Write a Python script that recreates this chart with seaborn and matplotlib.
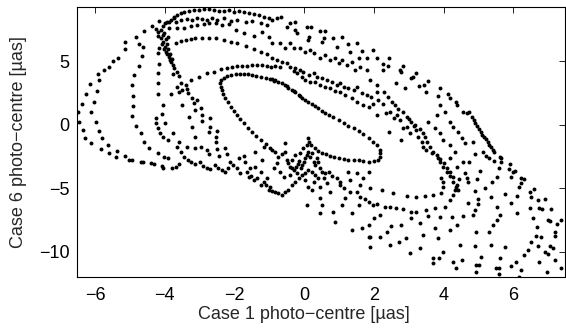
#!/usr/bin/env python
# -*- coding: utf-8 -*-
"""
Photo-centre comparison: case 1 vs case 6 (scatter of sampled positions)
"""

import matplotlib
matplotlib.use('Agg')
import matplotlib.pyplot as plt
import pandas as pd
import seaborn as sns


# ============================================================
# data [micro-arcsec]
# ============================================================

outer_arc = [(-4.37, 7.83), (-4.59, 7.41), (-4.83, 6.96), (-5.14, 6.54), (-5.35, 5.31),
             (-5.61, 4.60), (-5.74, 4.33), (-5.93, 3.99), (-6.15, 3.23), (-6.26, 2.41),
             (-6.38, 1.65), (-6.50, 0.99), (-6.45, 0.21), (-6.34, -0.40), (-6.28, -1.00),
             (-6.12, -1.45), (-5.83, -1.90), (-5.59, -2.19), (-5.40, -2.55), (-5.02, -2.77),
             (-4.68, -2.90), (-4.40, -3.03), (-4.08, -3.24)]

inner_arc = [(-5.13, 5.96), (-5.48, 5.04), (-5.90, 3.54), (-5.96, 2.68), (-6.02, 1.84),
             (-6.12, 1.05), (-5.99, 0.26), (-5.90, -0.48), (-5.80, -1.06), (-5.64, -1.58),
             (-5.38, -2.03), (-5.13, -2.42), (-4.94, -2.77), (-4.64, -2.95), (-4.30, -3.11),
             (-4.04, -3.37), (-3.92, -2.63), (-3.78, -3.42)]

loop3 = [(-4.73, 6.36), (-4.64, 6.17), (-4.66, 5.46), (-4.75, 4.67), (-4.88, 3.94),
         (-4.94, 3.15), (-4.92, 2.31), (-4.92, 1.52), (-4.95, 0.71), (-4.83, -0.06),
         (-4.68, -0.66), (-4.59, -1.32), (-4.46, -1.84), (-4.21, -2.24), (-4.01, -2.55)]

loop4 = [(-4.21, 5.65), (-4.18, 4.78), (-4.19, 4.07), (-4.19, 3.28), (-4.19, 2.44),
         (-4.04, 1.57), (-4.08, 0.84), (-4.25, 0.52), (-4.25, 0.13), (-4.19, -0.27),
         (-4.14, -0.61), (-4.04, -0.92), (-3.92, -1.19), (-3.99, 0.13), (-3.82, 2.41),
         (-3.77, 3.99), (-3.77, -0.66)]

hook = [(-4.16, 8.20), (-4.04, 7.83), (-3.95, 8.09), (-3.82, 8.28), (-3.89, 7.62),
        (-4.21, 7.04), (-4.11, 6.83), (-4.04, 6.57), (-3.99, 6.17), (-3.97, 5.78),
        (-3.89, 5.39), (-3.82, 4.99), (-3.77, 4.73), (-4.01, 7.22), (-3.92, 6.96),
        (-4.16, 6.04), (-4.10, 7.45), (-4.20, 7.30), (-4.06, 7.10), (-3.98, 6.75),
        (-4.08, 6.35), (-3.93, 6.40), (-3.90, 6.00), (-4.02, 5.95), (-3.85, 5.60),
        (-3.93, 5.55), (-3.80, 5.20), (-3.86, 5.15), (-4.00, 8.00), (-3.88, 8.15),
        (-3.75, 8.45), (-4.25, 7.60)]

top_band = [(-3.74, 8.54), (-3.64, 8.67), (-3.55, 8.80), (-3.45, 8.88), (-3.31, 8.99),
            (-3.17, 9.07), (-3.02, 9.07), (-2.88, 9.14), (-2.74, 9.14), (-2.59, 9.07),
            (-2.45, 8.99), (-2.30, 8.99), (-2.16, 9.07), (-2.02, 8.88), (-1.87, 8.99),
            (-1.73, 8.93), (-1.59, 8.80), (-1.44, 8.72), (-1.30, 8.67), (-1.16, 8.54),
            (-1.01, 8.46),
            (-3.69, 8.15), (-3.55, 8.28), (-3.36, 8.36), (-3.21, 8.28), (-3.07, 8.41),
            (-2.93, 8.36), (-2.78, 8.28), (-2.64, 8.41), (-2.50, 8.28), (-2.30, 8.41),
            (-2.11, 8.20), (-1.92, 8.28), (-1.68, 8.15), (-1.49, 8.20), (-1.25, 8.01),
            (-1.06, 7.88),
            (-3.64, 7.62), (-3.45, 7.67), (-3.26, 7.83), (-3.07, 7.88), (-2.88, 7.94),
            (-2.74, 8.01), (-2.54, 8.01), (-2.35, 7.88), (-2.16, 7.94), (-1.97, 7.49),
            (-1.73, 7.23), (-1.44, 7.04), (-1.20, 7.36), (-1.01, 6.96)]

mid_arc = [(-3.69, 6.44), (-3.55, 6.62), (-3.40, 6.70), (-3.26, 6.78), (-3.12, 6.83),
           (-2.93, 6.83), (-2.74, 6.83), (-2.54, 6.83), (-2.30, 6.70), (-2.11, 6.57),
           (-1.92, 6.44), (-1.68, 6.25), (-1.44, 5.99), (-1.25, 5.78), (-1.06, 5.57)]

second_ellipse = [(-3.26, 3.54), (-3.02, 3.81), (-2.78, 4.07), (-2.59, 4.20), (-2.40, 4.41),
                  (-2.21, 4.52), (-2.07, 4.60), (-1.92, 4.65), (-1.78, 4.67), (-1.63, 4.67),
                  (-1.49, 4.73), (-1.35, 4.73), (-1.20, 4.73), (-1.06, 4.67), (-0.95, 4.60)]

inner_ellipse = [(-2.40, 3.02), (-2.42, 3.28), (-2.38, 3.54), (-2.30, 3.73), (-2.21, 3.86),
                 (-2.09, 3.94), (-1.97, 3.99), (-1.85, 4.02), (-1.73, 4.02), (-1.62, 3.99),
                 (-1.49, 3.94), (-1.37, 3.89), (-1.23, 3.81), (-1.10, 3.73), (-0.97, 3.65),
                 (-2.37, 2.76), (-2.32, 2.44), (-2.26, 2.10), (-2.18, 1.78), (-2.09, 1.44),
                 (-2.02, 1.10), (-1.92, 0.78), (-1.83, 0.44), (-1.73, 0.13), (-1.62, -0.21),
                 (-1.49, -0.53), (-1.37, -0.85), (-1.23, -1.19), (-1.10, -1.53), (-0.97, -1.84),
                 (-0.93, 3.62), (-0.83, 3.54), (-0.74, 3.41), (-0.64, 3.28), (-0.54, 3.15),
                 (-0.45, 2.94), (-0.35, 2.76), (-0.26, 2.57), (-0.16, 2.36), (-0.07, 2.15),
                 (0.03, 1.97), (0.12, 1.84), (0.22, 1.65), (0.32, 1.49), (0.41, 1.31),
                 (0.51, 1.10), (0.60, 0.97), (0.72, 0.78), (0.84, 0.60), (0.99, 0.39),
                 (1.13, 0.18), (1.27, -0.06), (1.42, -0.27), (1.56, -0.48), (1.70, -0.74),
                 (1.85, -1.00), (-0.88, 3.47), (-0.50, 3.07), (-0.30, 2.68), (-0.11, 2.28)]

ellipse_tip = [(0.12, -1.06), (0.15, -1.32), (0.20, -1.58), (0.30, -1.84), (0.39, -2.06),
               (0.51, -2.21), (0.62, -2.32), (0.75, -2.42), (0.87, -2.53), (0.99, -2.63),
               (1.13, -2.71), (1.27, -2.77), (1.42, -2.77), (1.56, -2.79), (1.70, -2.84),
               (1.85, -2.90), (1.98, -1.37), (2.10, -1.58), (2.17, -1.98), (2.19, -2.24),
               (2.19, -2.50), (2.12, -2.77), (2.00, -2.84)]

left_scatter = [(-3.74, 4.46), (-3.64, 4.20), (-3.60, 3.89), (-3.55, 3.28), (-3.64, 3.02),
                (-3.60, 2.57), (-3.50, 2.76), (-3.40, 3.15), (-3.36, 2.83), (-3.34, 2.49),
                (-3.50, 1.57), (-3.21, 2.10), (-3.17, 1.70), (-3.09, 1.97), (-3.12, 1.18),
                (-2.96, 1.31), (-2.93, 0.78), (-3.31, 0.65), (-2.93, 0.31), (-2.71, 0.52),
                (-2.71, -0.14), (-2.74, -0.53), (-3.21, -0.14), (-2.50, -0.48), (-2.52, -0.92),
                (-2.54, -1.32), (-3.12, -0.92), (-3.60, -1.32), (-3.36, -1.71), (-3.12, -1.79),
                (-2.97, -1.71), (-2.78, -1.98), (-2.74, -2.29), (-2.50, -1.90), (-2.26, -1.84),
                (-2.21, -2.32), (-2.45, -2.42), (-3.64, -1.71), (-3.55, -2.11)]

lower_band = [(-3.69, -3.29), (-3.60, -3.11), (-3.45, -2.50), (-3.34, -2.77), (-3.24, -2.95),
              (-3.12, -3.11), (-2.99, -2.90), (-2.90, -3.21), (-2.80, -3.42), (-2.69, -3.48),
              (-2.57, -3.16), (-2.48, -3.42), (-2.35, -3.55), (-2.26, -3.69), (-2.19, -3.37),
              (-2.13, -2.90), (-2.04, -3.16), (-1.94, -3.42), (-1.87, -2.63), (-1.73, -2.42),
              (-1.71, -2.95), (-1.65, -3.69), (-1.56, -3.42), (-1.52, -4.00), (-1.40, -3.29),
              (-1.35, -4.21), (-1.23, -3.69), (-1.16, -4.47), (-1.06, -4.16), (-1.01, -5.13),
              (-0.97, -4.87), (-1.11, -4.74), (-1.25, -4.74), (-1.44, -4.34), (-1.59, -4.08),
              (-1.83, -3.82), (-1.20, -2.77), (-1.40, -2.11), (-1.16, -1.71)]

centre_cluster = [(-0.93, -1.98), (-0.83, -2.16), (-0.74, -2.50), (-0.64, -2.32), (-0.54, -1.45),
                  (-0.54, -2.11), (-0.50, -2.77), (-0.45, -3.03), (-0.40, -3.29), (-0.35, -3.42),
                  (-0.30, -3.55), (-0.24, -3.29), (-0.18, -3.11), (-0.14, -2.84), (-0.09, -3.42),
                  (-0.05, -3.16), (-0.01, -2.90), (0.03, -2.63), (0.08, -2.37), (0.12, -2.11),
                  (0.17, -2.50), (0.22, -2.24), (0.27, -2.90), (0.32, -3.16), (0.36, -2.63),
                  (0.41, -2.95), (0.46, -3.42), (0.51, -3.69), (0.56, -4.21), (0.60, -3.82),
                  (0.65, -4.61), (0.41, -4.21), (0.32, -3.95), (0.22, -3.69), (0.12, -3.55),
                  (0.03, -3.82), (-0.07, -3.95), (-0.16, -4.21), (-0.26, -4.47), (-0.35, -4.74),
                  (-0.45, -5.13), (-0.54, -5.32), (-0.64, -5.53), (-0.74, -5.39), (-0.83, -5.26),
                  (-0.93, -5.21), (0.03, -4.34), (0.12, -4.87), (0.22, -5.13), (0.27, -4.47),
                  (0.46, -4.87), (-0.78, -3.03), (-0.69, -3.69), (-0.59, -4.08), (-0.88, -3.42),
                  (-0.40, -3.95), (-0.21, -3.82), (-0.35, -2.77), (-0.26, -2.37), (-0.11, -2.24),
                  (-0.02, -1.84), (0.08, -1.58)]

upper_right = [(-0.78, 8.41), (-0.66, 8.54), (-0.93, 8.28), (-0.50, 7.75), (-0.40, 8.01),
               (-0.26, 8.15), (-0.26, 7.49), (-0.21, 7.23), (0.08, 7.75), (0.20, 7.75),
               (0.13, 6.96), (0.11, 6.70), (0.46, 7.41), (0.60, 7.41), (0.56, 6.83),
               (0.51, 6.57), (0.84, 6.83), (1.08, 6.96), (0.94, 6.17), (1.27, 6.36),
               (1.32, 5.78), (1.51, 6.44), (1.58, 5.25), (1.66, 5.83), (1.80, 5.25),
               (-0.93, 6.44), (-0.69, 6.44), (-0.54, 6.09), (-0.40, 6.44), (-0.30, 6.04),
               (-0.11, 6.04), (0.03, 5.78), (0.17, 5.91), (0.27, 5.65), (0.46, 5.25),
               (0.60, 5.52), (0.75, 5.12), (0.89, 5.25), (0.99, 4.86), (1.08, 5.12),
               (1.23, 4.73), (1.37, 4.99), (1.47, 4.33), (1.61, 4.60), (1.80, 4.33),
               (-0.93, 5.25), (-0.78, 5.12), (-0.64, 4.99), (-0.50, 4.86), (-0.40, 4.60),
               (-0.26, 4.46), (-0.11, 4.33), (-0.02, 4.20), (0.13, 3.94), (0.27, 4.07),
               (0.36, 3.81), (0.51, 3.68), (0.65, 3.54), (0.80, 3.41), (0.94, 3.15),
               (1.04, 3.28), (1.13, 3.02), (1.27, 2.89), (1.42, 2.76), (1.51, 3.02),
               (1.66, 2.49), (1.80, 2.36),
               (-0.83, 4.67), (-0.69, 4.57), (-0.30, 4.25), (-0.21, 4.07), (-0.07, 3.81),
               (0.03, 3.54), (0.17, 3.41), (0.32, 3.36), (0.46, 3.15), (0.60, 3.02),
               (0.75, 2.89), (0.89, 2.68), (1.04, 2.57), (1.18, 2.36), (1.37, 2.15),
               (1.51, 1.84), (1.70, 1.57), (1.85, 1.44)]

fan_mid = [(0.08, -6.31), (0.46, -5.79), (0.51, -6.31), (0.46, -6.97), (0.84, -6.84),
           (0.89, -7.63), (1.08, -6.31), (1.18, -5.79), (1.32, -5.26), (1.37, -6.97),
           (1.37, -8.29), (1.56, -6.31), (1.61, -4.74), (1.66, -8.15), (1.85, -7.89),
           (1.85, -8.81), (0.75, -5.26), (1.04, -4.74), (0.70, -3.69), (0.80, -4.00),
           (0.94, -4.21), (1.04, -4.47), (1.13, -4.95), (1.32, -4.34), (1.51, -5.26),
           (1.61, -5.66), (1.75, -5.84), (1.85, -6.05), (1.27, -3.69), (1.51, -3.82),
           (1.70, -4.21), (1.85, -3.69)]

bands_right = [(1.98, 5.91), (2.08, 5.31), (2.27, 4.78), (2.41, 4.67), (2.44, 5.31),
               (2.25, 4.33), (2.75, 4.33), (2.84, 4.67), (2.77, 4.20), (2.65, 3.28),
               (2.89, 2.94), (3.08, 3.68), (3.13, 3.81), (3.22, 4.07), (3.30, 3.10),
               (3.44, 3.15), (3.56, 3.47), (3.51, 2.57), (3.89, 2.94), (3.85, 2.31),
               (4.13, 2.41), (4.18, 2.10), (4.35, 1.78), (4.39, 1.57), (4.55, 1.05),
               (4.66, 0.92),
               (1.89, 3.54), (2.08, 3.15), (2.29, 2.57), (2.41, 2.23), (2.51, 1.84),
               (2.60, 1.57), (2.70, 1.26), (2.84, 1.05), (2.94, 0.65), (3.01, 0.47),
               (3.08, 0.26), (3.18, 0.00), (3.32, -0.32), (3.42, -0.66), (3.46, -0.92),
               (3.53, -1.32), (3.61, -1.71), (3.70, -2.11), (3.80, -2.37), (3.91, -2.69),
               (4.01, -3.03), (4.11, -3.37), (4.18, -3.69), (4.28, -4.08),
               (1.98, 1.63), (2.12, 1.97), (2.27, 1.63), (2.34, 0.91), (2.10, 0.78),
               (2.46, 1.05), (2.57, 0.52), (2.67, 0.78), (2.75, 0.39), (2.79, -1.19),
               (2.44, -0.53), (2.84, -0.27), (2.96, -0.14), (3.03, -0.66), (3.15, -0.06),
               (3.22, -0.40), (3.27, -0.92), (3.37, -1.32), (3.42, -1.71), (3.51, -1.98),
               (3.66, -2.24), (3.85, -2.63), (3.89, -2.95), (3.99, -3.29), (4.09, -3.69),
               (4.18, -4.00), (4.26, -4.47), (4.37, -4.87), (4.42, -5.13),
               (3.56, 0.26), (3.75, -0.21), (3.89, -0.66), (3.99, -1.19), (4.18, -1.58),
               (4.18, -2.63), (4.33, -2.11), (4.39, -3.29), (4.56, -2.90), (4.61, -3.82),
               (4.66, -4.21), (4.18, 0.26), (4.28, -0.14), (4.42, -0.53), (4.52, -1.06),
               (4.61, -1.45), (3.89, 1.57), (4.04, 1.05), (3.80, 0.78), (2.08, 2.62),
               (1.93, 2.23)]

fan_right = [(1.89, -5.00), (2.22, -5.13), (2.56, -5.39), (2.94, -5.58), (3.22, -5.66),
             (3.46, -5.58), (3.70, -5.53), (3.94, -5.39), (3.99, -4.87), (3.99, -4.47),
             (3.94, -4.16), (4.18, -5.92), (4.28, -5.53), (4.33, -5.13), (4.39, -4.74),
             (4.45, -4.26), (1.98, -6.31), (2.08, -6.26), (2.32, -6.45), (2.46, -6.45),
             (2.65, -6.58), (2.84, -6.63), (3.08, -6.84), (3.22, -6.84), (3.51, -6.71),
             (3.75, -6.58), (4.04, -6.45), (2.00, -7.37), (2.17, -7.10), (2.48, -7.94),
             (2.79, -7.89), (3.08, -7.37), (3.32, -7.76), (3.56, -7.16), (3.89, -7.24),
             (4.23, -7.24), (4.55, -7.16), (1.89, -8.81), (2.17, -8.81), (2.38, -8.42),
             (2.46, -9.47), (2.73, -9.26), (2.92, -8.94), (3.05, -10.13), (3.32, -9.73),
             (3.42, -8.68), (3.75, -8.15), (3.85, -8.94), (3.99, -10.00), (4.18, -8.29),
             (4.39, -7.89), (4.47, -9.47), (1.89, -9.60), (3.70, -10.52), (3.70, -10.92),
             (3.88, -10.52), (4.28, -10.78), (4.37, -11.31), (4.52, -10.65)]

edge_band = [(4.74, 0.99), (4.81, 0.65), (4.87, 0.39), (4.91, 0.13), (4.96, -0.06),
             (5.03, -0.32), (5.08, -0.53), (5.10, -0.79), (5.16, -0.92), (5.22, -1.11),
             (5.27, -1.32), (5.32, -1.58), (5.37, -1.71), (5.41, -1.98), (5.46, -2.11)]

fan_edge = [(4.84, -1.32), (4.89, -2.32), (4.74, -2.90), (5.13, -2.11), (5.22, -2.42),
            (5.32, -2.63), (5.44, -2.84), (5.61, -2.50), (5.65, -2.95), (5.92, -3.11),
            (5.89, -3.48), (5.99, -3.69), (6.06, -3.63), (5.94, -4.08), (6.23, -4.21),
            (6.30, -4.26), (6.23, -4.61), (6.18, -4.87), (6.47, -5.32), (6.50, -5.66),
            (6.61, -5.05), (6.71, -5.92), (6.75, -6.58), (6.82, -6.63), (6.90, -5.84),
            (7.09, -6.63), (6.99, -7.50), (7.07, -7.58), (7.26, -7.84), (7.19, -8.42),
            (7.20, -8.73), (7.36, -7.50), (7.14, -9.73), (7.07, -9.52), (6.99, -10.20),
            (7.19, -10.65), (7.36, -11.31), (6.97, -11.57), (6.75, -10.78), (6.71, -9.52),
            (6.66, -8.73), (6.50, -9.21), (6.42, -9.86), (6.30, -10.26), (6.23, -11.44),
            (6.18, -11.97), (6.08, -10.78), (5.94, -11.10), (5.77, -9.60), (5.61, -10.52),
            (5.58, -11.31), (5.58, -11.78), (5.51, -11.31), (5.08, -10.39), (5.03, -11.05),
            (4.94, -11.05), (4.94, -11.57), (4.89, -9.52), (4.94, -8.42), (4.84, -7.10),
            (4.91, -6.71), (4.98, -6.26), (5.00, -5.84), (4.89, -5.21), (4.96, -4.26),
            (5.06, -3.63), (5.18, -4.95), (5.39, -4.53), (5.37, -5.66), (5.54, -4.08),
            (5.58, -3.37), (5.65, -2.58), (5.54, -6.45), (5.63, -7.10), (5.54, -7.50),
            (5.41, -7.89), (5.32, -8.42), (5.35, -9.47), (5.77, -5.47), (5.94, -6.18),
            (6.11, -6.97), (6.47, -6.53), (6.56, -7.32), (6.69, -8.02), (6.80, -8.81),
            (6.90, -10.00), (6.11, -5.58), (4.70, -4.47), (4.70, -6.18)]

x_ticks = [-6, -4, -2, 0, 2, 4, 6]
y_ticks = [-10, -5, 0, 5]
x_label = 'Case 1 photo\u2212centre [\u00b5as]'
y_label = 'Case 6 photo\u2212centre [\u00b5as]'


# ============================================================
# plot
# ============================================================

groups = [outer_arc, inner_arc, loop3, loop4, hook, top_band, mid_arc, second_ellipse,
          inner_ellipse, ellipse_tip, left_scatter, lower_band, centre_cluster,
          upper_right, fan_mid, bands_right, fan_right, edge_band, fan_edge]
points = [p for g in groups for p in g]
df = pd.DataFrame(points, columns=['x', 'y'])

sns.set_style('white')
plt.rcParams['font.family'] = ['Liberation Sans', 'DejaVu Sans']

fig = plt.figure(figsize=(5.66, 3.33), dpi=100)
ax = fig.add_axes([0.1355, 0.1673, 0.8635, 0.8107])

sns.scatterplot(data=df, x='x', y='y', color='black', s=8, linewidth=0,
                legend=False, ax=ax)

ax.set_xlim(-6.53, 7.5)
ax.set_ylim(-12.02, 9.27)
ax.set_xticks(x_ticks)
ax.set_yticks(y_ticks)
ax.set_xlabel(x_label, fontsize=13, labelpad=1)
ax.set_ylabel(y_label, fontsize=13, labelpad=9)
# label in the reference sits a little left of the axes centre
ax.xaxis.set_label_coords(0.4645, -0.105)
ax.tick_params(axis='both', direction='in', top=True, right=True,
               length=4, width=0.6, labelsize=13, colors='black')
ax.tick_params(axis='x', pad=7)
ax.tick_params(axis='y', pad=5)
for s in ax.spines.values():
    s.set_linewidth(0.8)
    s.set_color('black')

fig.savefig('out.png', dpi=100)
